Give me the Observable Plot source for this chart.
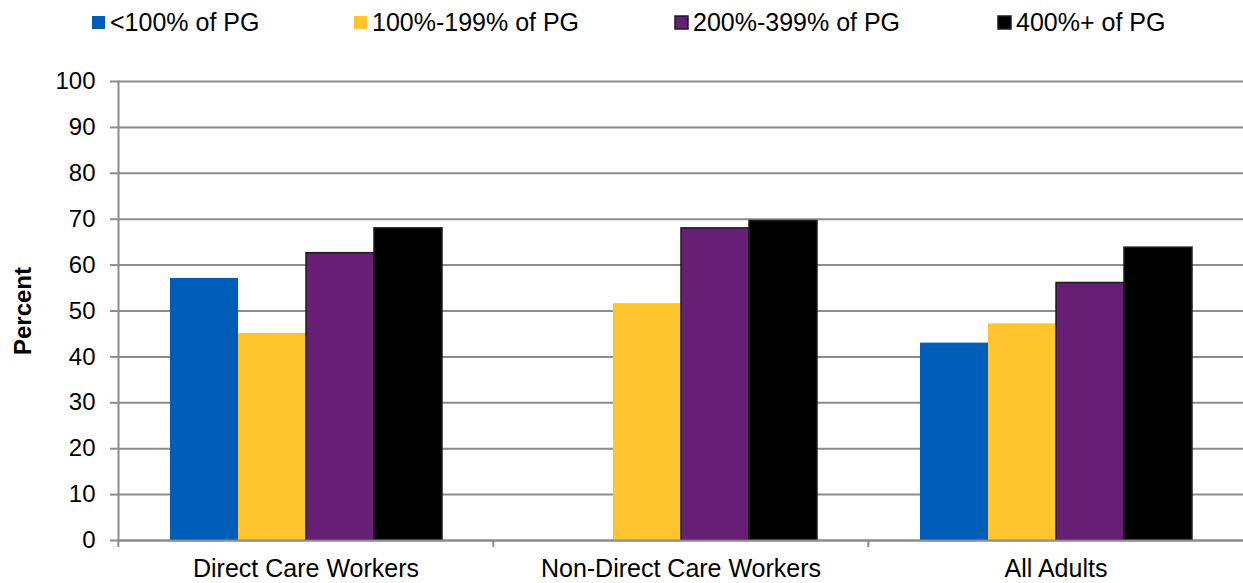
<!DOCTYPE html>
<html>
<head>
<meta charset="utf-8">
<script src="https://cdn.jsdelivr.net/npm/d3@7"></script>
<script src="https://cdn.jsdelivr.net/npm/@observablehq/plot@0.6"></script>
<style>
  html, body { margin: 0; padding: 0; background: #fff; }
  body { font-family: "Liberation Sans", Arial, sans-serif; width: 1243px; height: 583px; overflow: hidden; }
  #legend { position: relative; height: 45px; width: 1243px; }
  #legend > div { position: relative; height: 45px; margin: 0 !important; }
  #legend span { position: absolute; top: 10px; height: 25px; display: inline-flex; align-items: center; font-size: 25px; color: #000; white-space: nowrap; }
  #legend span svg { margin-right: 5px !important; }
  #legend span:nth-of-type(1) { left: 92px; }
  #legend span:nth-of-type(2) { left: 354px; }
  #legend span:nth-of-type(3) { left: 675px; }
  #legend span:nth-of-type(4) { left: 998px; }
  #legend span:nth-of-type(3) svg rect, #legend span:nth-of-type(4) svg rect { stroke: #1c1c1c; stroke-width: 1.5px; }
  #chart svg [aria-label="y-axis label"] text, #chart svg [aria-label="y-axis label"] { font-weight: bold; }
</style>
</head>
<body>
<div id="legend"></div>
<div id="chart"></div>
<script>
// ---- data ----
const categories = ["Direct Care Workers", "Non-Direct Care Workers", "All Adults"];
const series = ["<100% of PG", "100%-199% of PG", "200%-399% of PG", "400%+ of PG"];
const below100 = [57.1, null, 43.0];
const pct100to199 = [45.1, 51.6, 47.2];
const pct200to399 = [62.6, 68.0, 56.1];
const pct400plus = [68.0, 69.6, 63.8];
const yTicks = [0, 10, 20, 30, 40, 50, 60, 70, 80, 90, 100];
const colors = ["#005EB8", "#FFC52F", "#671E75", "#000000"];
const outlinedSeries = ["200%-399% of PG", "400%+ of PG"];

const seriesValues = [below100, pct100to199, pct200to399, pct400plus];
const rows = categories.flatMap((c, i) =>
  series.map((s, j) => ({category: c, series: s, value: seriesValues[j][i]}))
).filter(d => d.value != null);

// ---- layout ----
const W = 1243, H = 538, mL = 117, mR = 0, mT = 36, mB = 43;
const facetW = (W - mL - mR) / categories.length;
const gray = "#8c8c8c";
const font = "'Liberation Sans', Arial, sans-serif";

const legend = Plot.legend({
  color: {domain: series, range: colors},
  legend: "swatches",
  swatchSize: 13,
  style: {fontFamily: font, fontSize: "25px"}
});
document.getElementById("legend").append(legend);

const chart = Plot.plot({
  width: W, height: H,
  marginLeft: mL, marginRight: mR, marginTop: mT, marginBottom: mB,
  style: {fontFamily: font, fontSize: "24px", color: "#000", background: "#fff"},
  fx: {domain: categories, padding: 0, label: null, axis: null},
  x: {domain: series, paddingInner: 0, paddingOuter: 0.745, axis: null},
  y: {domain: [0, 100], label: null},
  color: {domain: series, range: colors},
  marks: [
    Plot.gridY(yTicks, {stroke: gray, strokeOpacity: 1, strokeWidth: 2}),
    Plot.barY(rows, {fx: "category", x: "series", y: "value", fill: "series"}),
    Plot.barY(rows.filter(d => outlinedSeries.includes(d.series)),
      {fx: "category", x: "series", y: "value", fill: "none", stroke: "#1c1c1c", strokeWidth: 1.5}),
    Plot.ruleY([0], {stroke: gray, strokeWidth: 2}),
    Plot.frame({anchor: "left", stroke: gray, strokeWidth: 2, facetAnchor: "left"}),
    Plot.axisY({
      ticks: yTicks, tickSize: 8, tickPadding: 15, stroke: gray, strokeWidth: 2,
      fill: "#000", fontSize: 24, label: "Percent", labelAnchor: "center", labelArrow: "none", labelOffset: 105
    }),
    Plot.axisFx({anchor: "bottom", tickSize: 0, tickPadding: 19, label: null, fill: "#000", fontSize: 25}),
    Plot.axisFx({anchor: "bottom", tickSize: 7, tickFormat: null, label: null, stroke: gray, strokeWidth: 2, dx: -facetW / 2})
  ]
});
document.getElementById("chart").append(chart);
</script>
</body>
</html>
